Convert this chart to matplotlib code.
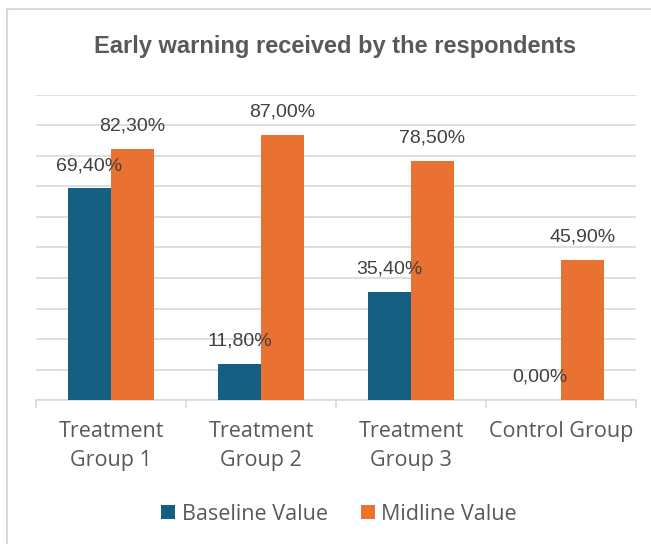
import matplotlib
matplotlib.use("Agg")
import matplotlib.pyplot as plt
from matplotlib.lines import Line2D
from matplotlib import font_manager
import numpy as np

categories = ["Treatment\nGroup 1", "Treatment\nGroup 2", "Treatment\nGroup 3", "Control Group"]
baseline = [69.4, 11.8, 35.4, 0.0]
midline = [82.3, 87.0, 78.5, 45.9]
series_names = ["Baseline Value", "Midline Value"]
title = "Early warning received by the respondents"

W, H = 651, 544
fig = plt.figure(figsize=(W / 100, H / 100), dpi=100)
plt.rcParams['font.family'] = ['Liberation Sans', 'DejaVu Sans']

ax = fig.add_axes([36 / W, (H - 400) / H, 600 / W, 305 / H])

x = np.arange(len(categories))
bw = 0.287
c_base = "#156082"
c_mid = "#E97132"
b1 = ax.bar(x - bw / 2, baseline, bw, color=c_base, label=series_names[0], zorder=3)
b2 = ax.bar(x + bw / 2, midline, bw, color=c_mid, label=series_names[1], zorder=3)

def fmt(v):
    return f"{v:.2f}".replace(".", ",") + "%"

for bars, vals in ((b1, baseline), (b2, midline)):
    for rect, v in zip(bars, vals):
        ax.annotate(fmt(v), (rect.get_x() + rect.get_width() / 2, v),
                    xytext=(0, 13), textcoords="offset points",
                    ha="center", va="baseline", fontsize=14, color="#404040", zorder=4)

ax.set_xlim(-0.5, len(categories) - 0.5)
ax.set_ylim(0, 100)
ax.set_yticks(np.arange(0, 101, 10))
ax.yaxis.grid(True, color="#d9d9d9", linewidth=1.2, zorder=0)
ax.tick_params(axis="y", left=False, labelleft=False)
for s in ("left", "top", "right"):
    ax.spines[s].set_visible(False)
ax.spines["bottom"].set_color("#d9d9d9")
ax.spines["bottom"].set_linewidth(1.2)

ax.set_xticks(x)
ax.set_xticklabels(categories, fontsize=15.5, color="#595959", linespacing=1.52,
                   family=["Open Sans", "Liberation Sans"])
ax.tick_params(axis="x", which="major", length=0, pad=15)
ax.set_xticks(np.arange(-0.5, len(categories), 1.0), minor=True)
ax.tick_params(axis="x", which="minor", length=5.5, width=1.2, color="#d9d9d9")

fig.text(335 / W, 1 - 46 / H, title, ha="center", va="center",
         fontsize=17, fontweight="bold", color="#595959",
         family=["Liberation Sans", "DejaVu Sans"])

leg = fig.legend(handles=[b1, b2], labels=series_names, loc="center",
                 bbox_to_anchor=(339 / W, 1 - 514 / H), ncol=2, frameon=False,
                 prop=font_manager.FontProperties(family=["Open Sans", "Liberation Sans"], size=15.5),
                 handlelength=0.65, handleheight=0.65,
                 handletextpad=0.3, columnspacing=1.55, borderpad=0)
for t in leg.get_texts():
    t.set_color("#595959")

# chart area border (left and top edges visible)
fig.add_artist(Line2D([6.5 / W, 6.5 / W], [0, 1 - 9 / H], transform=fig.transFigure,
                      color="#d9d9d9", linewidth=1.5))
fig.add_artist(Line2D([6.5 / W, 1], [1 - 9 / H, 1 - 9 / H], transform=fig.transFigure,
                      color="#d9d9d9", linewidth=1.5))

fig.savefig("out.png", dpi=100, facecolor="white")
